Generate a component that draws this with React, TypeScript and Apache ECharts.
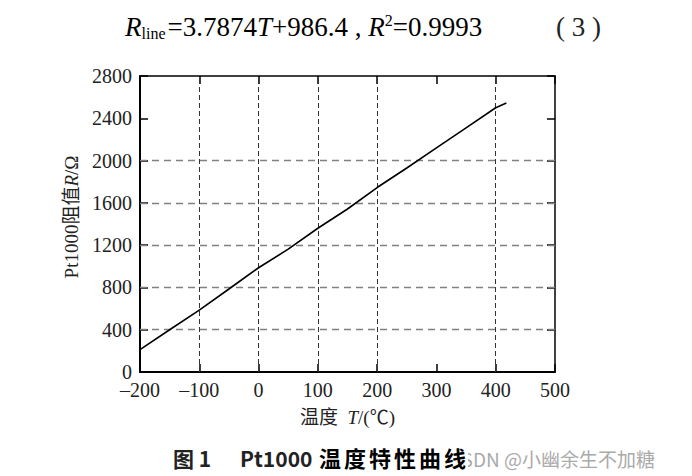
import React, { useEffect, useRef } from "react";
import * as echarts from "echarts";

// Temperature (°C) and Pt1000 resistance (Ω)
const temps = [-200, -150, -100, -50, 0, 50, 100, 150, 200, 250, 300, 350, 400, 418];
const resist = [211, 400, 586, 785, 986, 1162, 1360, 1542, 1745, 1930, 2120, 2310, 2500, 2545];

const xGridValues = [-100, 0, 100, 200, 400];
const yGridValues = [400, 800, 1200, 1600, 2000];

const formulaText = "{ri|R}{sub|line}{n|=3.7874}{ri|T}{n|+986.4 , }{ri|R}{sup|2}{n|=0.9993}";
const eqNumber = "( 3 )";
const yName = "Pt1000阻值{i|R}/Ω";
const xName = "温度  {i|T}/(℃)";
const captionFig = "图 1";
const captionPt = "Pt1000";
const captionWords = ["温", "度", "特", "性", "曲", "线"];
const watermark = "CSDN @小幽余生不加糖";

const SERIF = "'Liberation Serif', 'Times New Roman', 'Noto Sans CJK SC', serif";
const SANS = "'Noto Sans CJK SC', 'Noto Sans', sans-serif";

export default function App() {
  const ref = useRef<HTMLDivElement>(null);
  useEffect(() => {
    if (!ref.current) return;
    const chart = echarts.init(ref.current, null, { renderer: "svg" });
    const data = temps.map((t, i) => [t, resist[i]]);
    const tick = { show: true, inside: true, length: 8, lineStyle: { color: "#000", width: 1.5 } };
    const label = {
      color: "#222",
      fontFamily: SERIF,
      fontSize: 20,
    };
    const captionRich = captionWords.map((c) => "{c|" + c + "}").join("");
    chart.setOption({
      animation: false,
      backgroundColor: "#fff",
      grid: { left: 140, right: 137, top: 76, bottom: 104, containLabel: false },
      xAxis: [
        {
          type: "value",
          min: -200,
          max: 500,
          interval: 100,
          position: "bottom",
          axisLine: { show: true, onZero: false, lineStyle: { color: "#000", width: 2 } },
          axisTick: tick,
          splitLine: { show: false },
          axisLabel: {
            ...label,
            margin: 10,
            lineHeight: 16,
            formatter: (v: number) => (v < 0 ? "–" + Math.abs(v) : String(v)),
          },
          name: xName,
          nameLocation: "middle",
          nameGap: 36,
          nameTextStyle: {
            color: "#222",
            fontFamily: SERIF,
            fontSize: 19,
            rich: { i: { fontStyle: "italic", fontFamily: SERIF, fontSize: 19, color: "#222" } },
          },
        },
        {
          type: "value",
          min: -200,
          max: 500,
          interval: 100,
          position: "top",
          axisLine: { show: true, onZero: false, lineStyle: { color: "#000", width: 1.5 } },
          axisTick: tick,
          axisLabel: { show: false },
          splitLine: { show: false },
        },
      ],
      yAxis: [
        {
          type: "value",
          min: 0,
          max: 2800,
          interval: 400,
          position: "left",
          axisLine: { show: true, onZero: false, lineStyle: { color: "#000", width: 2 } },
          axisTick: tick,
          splitLine: { show: false },
          axisLabel: {
            ...label,
            margin: 8,
            lineHeight: 14,
            padding: [0, 0, 4, 0],
            formatter: (v: number) => String(v),
          },
          name: yName,
          nameLocation: "middle",
          nameGap: 58,
          nameRotate: 90,
          nameTextStyle: {
            color: "#222",
            fontFamily: SERIF,
            fontSize: 19,
            padding: [0, 0, 0, 14],
            rich: { i: { fontStyle: "italic", fontFamily: SERIF, fontSize: 19, color: "#222" } },
          },
        },
        {
          type: "value",
          min: 0,
          max: 2800,
          interval: 400,
          position: "right",
          axisLine: { show: true, onZero: false, lineStyle: { color: "#000", width: 1.5 } },
          axisTick: tick,
          axisLabel: { show: false },
          splitLine: { show: false },
        },
      ],
      series: [
        {
          type: "line",
          data,
          xAxisIndex: 0,
          yAxisIndex: 0,
          showSymbol: false,
          symbol: "none",
          lineStyle: { color: "#000", width: 1.6 },
          z: 5,
          markLine: {
            silent: true,
            symbol: "none",
            label: { show: false },
            data: [
              ...xGridValues.map((v) => ({
                xAxis: v,
                lineStyle: { color: "#333", width: 1, type: [5, 3] },
              })),
              ...yGridValues.map((v) => ({
                yAxis: v,
                lineStyle: { color: "#808080", width: 1.3, type: [7, 5] },
              })),
            ],
          },
        },
      ],
      graphic: [
        {
          type: "text",
          left: 125,
          top: 12,
          style: {
            text: formulaText,
            rich: {
              ri: { fontFamily: SERIF, fontStyle: "italic", fontSize: 27, color: "#222" },
              n: { fontFamily: SERIF, fontSize: 27, color: "#222" },
              sub: { fontFamily: SERIF, fontSize: 16, color: "#222", padding: [12, 2, 0, 0] },
              sup: { fontFamily: SERIF, fontSize: 16, color: "#222", padding: [0, 0, 14, 0] },
            },
          },
        },
        {
          type: "text",
          left: 556,
          top: 13,
          style: { text: eqNumber, fontFamily: SERIF, fontSize: 27, fill: "#222" },
        },
        {
          type: "text",
          left: 450,
          top: 449,
          z: 1,
          style: { text: watermark, fontFamily: SANS, fontSize: 19, fill: "#aaa" },
        },
        {
          type: "text",
          left: 173,
          top: 447,
          z: 10,
          style: {
            text: captionFig,
            fontFamily: SANS,
            fontWeight: "bold",
            fontSize: 21,
            fill: "#222",
          },
        },
        {
          type: "text",
          left: 240,
          top: 447,
          z: 10,
          style: {
            text: captionPt,
            fontFamily: SANS,
            fontWeight: "bold",
            fontSize: 21,
            fill: "#222",
          },
        },
        {
          type: "text",
          left: 318,
          top: 446,
          z: 10,
          style: {
            text: captionRich,
            backgroundColor: "#fff",
            rich: {
              c: {
                fontFamily: SANS,
                fontWeight: "bold",
                fontSize: 22,
                color: "#222",
                padding: [0, 2, 0, 1],
              },
            },
          },
        },
      ],
    });
    return () => chart.dispose();
  }, []);
  return (
    <div
      ref={ref}
      style={{ position: "fixed", left: 0, top: 0, width: 692, height: 476, background: "#fff" }}
    />
  );
}
